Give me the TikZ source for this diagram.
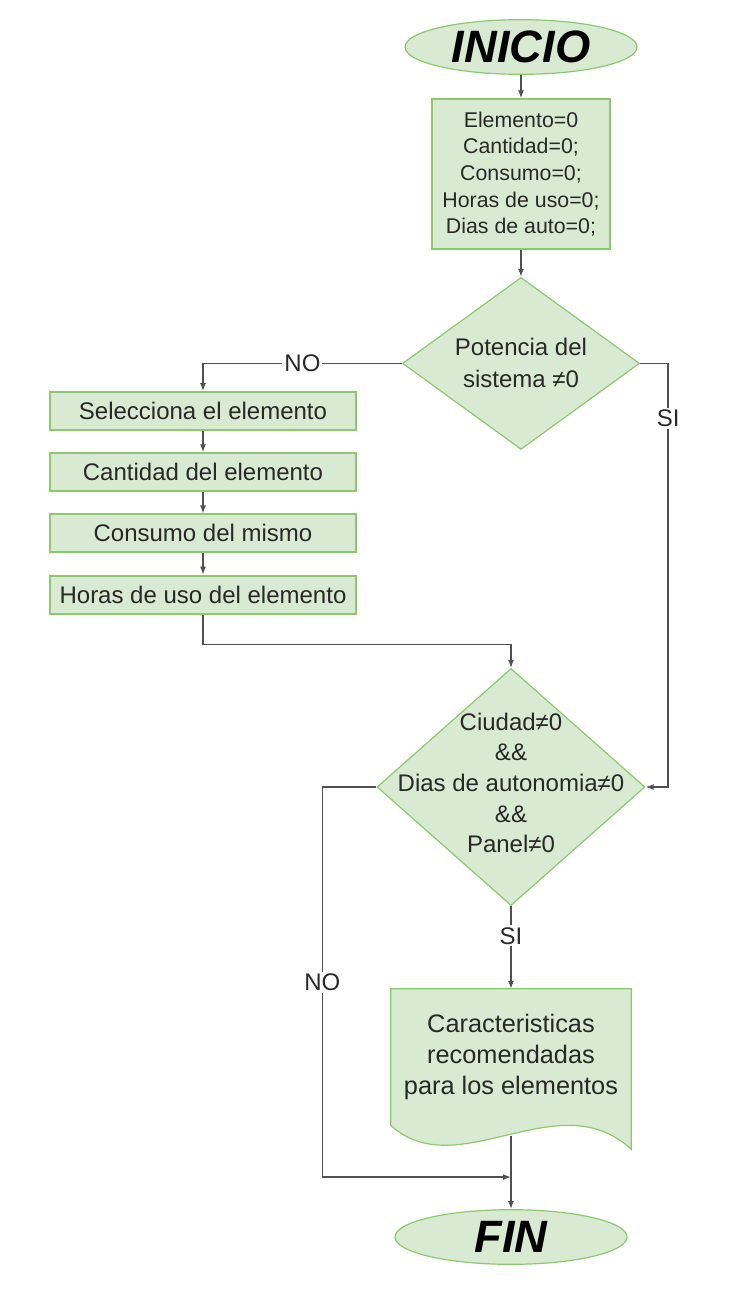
\documentclass[tikz,border=0pt]{standalone}
\usepackage{fontspec}
\setmainfont{Liberation Sans}
\usepackage{tikz}
\usetikzlibrary{arrows.meta,positioning,shapes.geometric,backgrounds}
\usepackage{xcolor}
\definecolor{boxfill}{RGB}{217,234,211}
\definecolor{boxline}{RGB}{140,200,110}
\definecolor{wire}{RGB}{80,80,80}
\definecolor{ink}{RGB}{40,40,40}

\begin{document}
\begin{tikzpicture}[
    x=0.75pt,y=-0.75pt,
    node distance=16pt,
    term/.style={ellipse,draw=boxline,fill=boxfill,line width=0.9pt,minimum width=174pt,
                 minimum height=41pt,inner sep=0pt,font=\fontsize{34}{40}\selectfont\bfseries\itshape},
    box/.style={rectangle,draw=boxline,fill=boxfill,line width=1.4pt,minimum width=229.5pt,
                minimum height=28.5pt,inner sep=0pt,text=ink,font=\fontsize{18}{22}\selectfont},
    cond/.style={diamond,draw=boxline,fill=boxfill,line width=0.9pt,inner sep=0pt,aspect=1.38,
                 text=ink,align=center},
    lbl/.style={fill=white,inner sep=1.5pt,text=ink,font=\fontsize{18}{22}\selectfont},
    arr/.style={->,color=wire,line width=1pt},
    >={Latex[length=6pt,width=4.5pt]}
  ]
    \useasboundingbox (0,0) rectangle (754,1300);
    \node[term] (inicio) at (521,47) {INICIO};
    \node[box,minimum width=134pt,minimum height=112.5pt,below=17.5pt of inicio,
          font=\fontsize{16}{20}\selectfont,align=center] (init)
      {Elemento=0\\Cantidad=0;\\Consumo=0;\\Horas de uso=0;\\Dias de auto=0;};
    \node[cond,minimum width=177.75pt,minimum height=129pt,below=20pt of init,
          font=\fontsize{18}{24}\selectfont] (potencia) {Potencia del\\sistema ≠0};

    % datos del elemento
    \node[box] (selecciona) at (203,411) {Selecciona el elemento};
    \node[box,below=of selecciona] (cantidad) {Cantidad del elemento};
    \node[box,below=of cantidad] (consumo) {Consumo del mismo};
    \node[box,below=of consumo] (horas) {Horas de uso del elemento};

    \node[cond,minimum width=201pt,minimum height=177.75pt] (ciudad) at (511,787) {};
    \node[align=center,text=ink,font=\fontsize{18}{23}\selectfont] (ciudadtxt)
      at ([yshift=3pt]ciudad.center) {Ciudad≠0\\\&\&\\Dias de autonomia≠0\\\&\&\\Panel≠0};

    \node[align=center,minimum width=180pt,minimum height=102pt,below=62pt of ciudad,
          text=ink,font=\fontsize{19}{23}\selectfont] (caract)
      {Caracteristicas\\recomendadas\\para los elementos};
    \node[term] (fin) at (511,1237) {FIN};
    \coordinate (union) at ([yshift=24pt]fin.north);

    \draw[arr] (inicio) -- (init);
    \draw[arr] (init) -- (potencia);
    \draw[arr] (potencia.west) -| node[lbl,pos=0.25] {NO} (selecciona.north);
    \draw[arr] (potencia.east) -- ++(28,0) |- node[lbl,pos=0.065] {SI} (ciudad.east);
    \draw[arr] (selecciona) -- (cantidad);
    \draw[arr] (cantidad) -- (consumo);
    \draw[arr] (consumo) -- (horas);
    \draw[arr] (horas.south) -- ++(0,30) -| (ciudad.north);
    \draw[arr] (ciudad.south) -- node[lbl,pos=0.36] {SI} (caract.north);
    \draw[arr] ([yshift=-8pt]caract.south) -- (fin.north);
    \draw[arr] (ciudad.west) -- ++(-54,0) |- node[lbl,pos=0.25] {NO} (union);

    \begin{scope}[on background layer]
      \fill[white] (0,0) rectangle (754,1300);
      \filldraw[fill=boxfill,draw=boxline,line width=0.9pt]
        (caract.north west) -- (caract.north east) -- ([yshift=-18pt]caract.south east)
        .. controls ([xshift=-54.75pt,yshift=33pt]caract.south east)
        and ([xshift=50pt,yshift=-45.75pt]caract.south west) .. (caract.south west) -- cycle;
    \end{scope}
  \end{tikzpicture}
\end{document}
